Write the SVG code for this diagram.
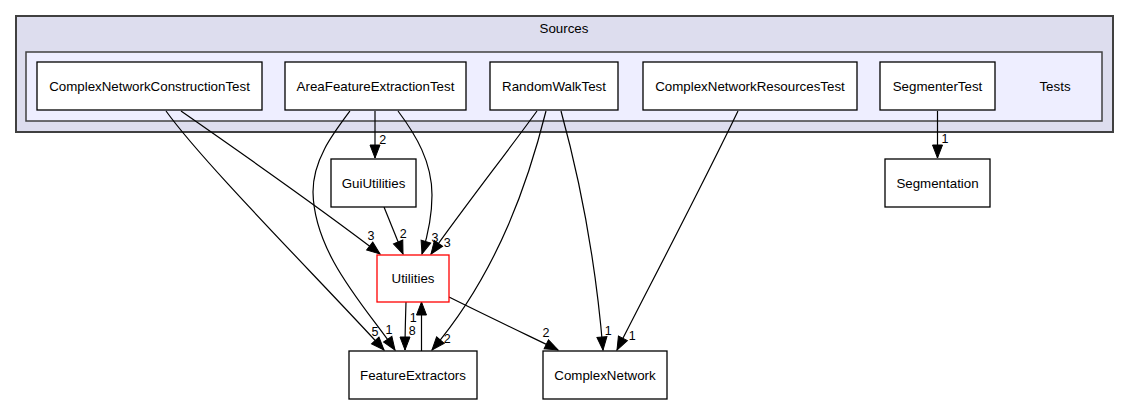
<svg xmlns="http://www.w3.org/2000/svg" width="1128" height="404" viewBox="0 0 1128 404">
<style>
text{font-family:"Liberation Sans",Arial,Helvetica,sans-serif;font-size:13.33px;fill:#000;text-anchor:middle}
.node rect{fill:#fff;stroke:#000;stroke-width:1.3}
.edges path{fill:none;stroke:#000;stroke-width:1.2}
.edges text{font-size:12.5px}
</style>
<defs>
<marker id="ah" markerUnits="userSpaceOnUse" markerWidth="16" markerHeight="14" viewBox="-1 -1 16 12" refX="13" refY="5" orient="auto">
<path d="M0,0 L13,5 L0,10 Z" fill="#000" stroke="#000" stroke-width="1"/>
</marker>
</defs>
<rect width="1128" height="404" fill="#fff"/>
<g id="cluster_Sources">
<rect x="16" y="16" width="1097" height="116" fill="#ddddee" stroke="#404040" stroke-width="2"/>
<text x="564" y="33">Sources</text>
</g>
<g id="cluster_Tests">
<rect x="26" y="52" width="1076" height="69" fill="#eeeeff" stroke="#404040" stroke-width="1.5"/>
<text x="1055" y="90.5">Tests</text>
</g>
<g class="edges" id="edges">
<path marker-end="url(#ah)" d="M181,111 C240,152 320,208 380,254"/>
<path marker-end="url(#ah)" d="M166,111 C205,165 320,280 384,350"/>
<path marker-end="url(#ah)" d="M375,111 L375,158"/>
<path marker-end="url(#ah)" d="M398,111 C416,135 432,162 432,195 C432,218 427,238 422,254"/>
<path marker-end="url(#ah)" d="M350,111 C332,135 313,160 313,192 C314,255 368,310 395,350"/>
<path marker-end="url(#ah)" d="M384,207 L403,254"/>
<path marker-end="url(#ah)" d="M537,111 C505,155 462,210 431,254"/>
<path marker-end="url(#ah)" d="M546,111 C530,175 500,270 432,350"/>
<path marker-end="url(#ah)" d="M561,111 C580,180 596,265 603,350"/>
<path marker-end="url(#ah)" d="M738,111 C700,190 650,285 617,350"/>
<path marker-end="url(#ah)" d="M937.5,111 L937.5,158"/>
<path marker-end="url(#ah)" d="M449,297 C485,315 525,334 558,350"/>
<path marker-end="url(#ah)" d="M406,302 C405.5,318 405,335 405,350"/>
<path marker-end="url(#ah)" d="M421.5,351 L421.5,302"/>
<text x="382.7" y="144">2</text>
<text x="371" y="240">3</text>
<text x="403.3" y="238.3">2</text>
<text x="435" y="242">3</text>
<text x="447.3" y="247">3</text>
<text x="375" y="336">5</text>
<text x="389" y="334">1</text>
<text x="413.3" y="321.5">1</text>
<text x="412.3" y="334.5">8</text>
<text x="447.3" y="343">2</text>
<text x="546" y="337">2</text>
<text x="608.3" y="335">1</text>
<text x="632.3" y="340">1</text>
<text x="945" y="143">1</text>
</g>
<g class="node" id="node_ComplexNetworkConstructionTest"><rect x="37" y="62" width="225" height="48"/><text x="149.5" y="90.5">ComplexNetworkConstructionTest</text></g>
<g class="node" id="node_AreaFeatureExtractionTest"><rect x="285" y="62" width="181" height="48"/><text x="375.5" y="90.5">AreaFeatureExtractionTest</text></g>
<g class="node" id="node_RandomWalkTest"><rect x="490" y="62" width="128" height="48"/><text x="554" y="90.5">RandomWalkTest</text></g>
<g class="node" id="node_ComplexNetworkResourcesTest"><rect x="643" y="62" width="214" height="48"/><text x="750" y="90.5">ComplexNetworkResourcesTest</text></g>
<g class="node" id="node_SegmenterTest"><rect x="880" y="62" width="115" height="48"/><text x="937.5" y="90.5">SegmenterTest</text></g>
<g class="node" id="node_Segmentation"><rect x="885" y="159" width="105" height="48"/><text x="937.5" y="187.5">Segmentation</text></g>
<g class="node" id="node_GuiUtilities"><rect x="331" y="159" width="85" height="48"/><text x="373.5" y="187.5">GuiUtilities</text></g>
<g class="node" id="node_Utilities"><rect x="377" y="255" width="72" height="47" style="stroke:#ff0000"/><text x="413" y="283">Utilities</text></g>
<g class="node" id="node_FeatureExtractors"><rect x="349" y="351" width="128" height="48"/><text x="413" y="379.5">FeatureExtractors</text></g>
<g class="node" id="node_ComplexNetwork"><rect x="543" y="351" width="124" height="48"/><text x="605" y="379.5">ComplexNetwork</text></g>
</svg>
